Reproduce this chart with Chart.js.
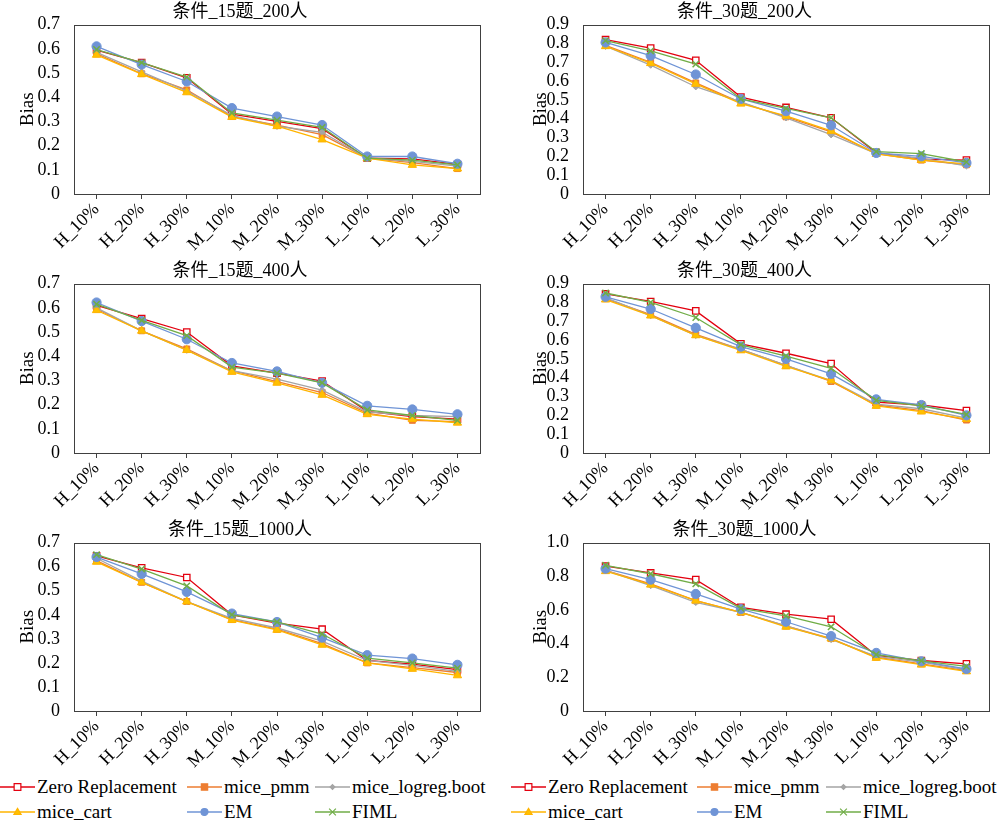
<!DOCTYPE html>
<html>
<head>
<meta charset="utf-8">
<script src="https://cdn.jsdelivr.net/npm/chart.js@4/dist/chart.umd.min.js"></script>
<style>
  html, body { margin: 0; padding: 0; background: #fff; }
  body { width: 1000px; height: 822px; position: relative; overflow: hidden;
         font-family: "Liberation Serif", "Times New Roman", "Noto Sans CJK SC", serif; }
  .panel { position: absolute; width: 500px; height: 258px; }
  .legend-item { position: absolute; font-size: 19px; line-height: 22px; white-space: nowrap; color: #000; }
  .legend-item canvas { position: absolute; top: 5px; }
  .legend-item span { position: absolute; top: 0; }
</style>
</head>
<body>
<div class="panel" style="left:0;top:0"><canvas id="c1"></canvas></div>
<div class="panel" style="left:500px;top:0"><canvas id="c2"></canvas></div>
<div class="panel" style="left:0;top:259px"><canvas id="c3"></canvas></div>
<div class="panel" style="left:500px;top:259px"><canvas id="c4"></canvas></div>
<div class="panel" style="left:0;top:518px"><canvas id="c5"></canvas></div>
<div class="panel" style="left:500px;top:518px"><canvas id="c6"></canvas></div>
<div id="legend-left"></div>
<div id="legend-right"></div>
<script>
const categories = ['H_10%', 'H_20%', 'H_30%', 'M_10%', 'M_20%', 'M_30%', 'L_10%', 'L_20%', 'L_30%'];
const seriesNames = ['Zero Replacement', 'mice_pmm', 'mice_logreg.boot', 'mice_cart', 'EM', 'FIML'];
const panelTitles = ['条件_15题_200人', '条件_30题_200人', '条件_15题_400人', '条件_30题_400人', '条件_15题_1000人', '条件_30题_1000人'];
const yMaxes = [0.7, 0.9, 0.7, 0.9, 0.7, 1.0];
const ySteps = [0.1, 0.1, 0.1, 0.1, 0.1, 0.2];

// order of rows in each panel: Zero, pmm, logreg.boot, cart, EM, FIML
const bias15_200 = [
  [0.595, 0.543, 0.48, 0.33, 0.30, 0.27, 0.148, 0.145, 0.122],
  [0.58, 0.497, 0.43, 0.32, 0.285, 0.245, 0.148, 0.13, 0.105],
  [0.585, 0.505, 0.425, 0.325, 0.28, 0.255, 0.148, 0.135, 0.115],
  [0.575, 0.495, 0.42, 0.318, 0.28, 0.225, 0.148, 0.12, 0.105],
  [0.61, 0.535, 0.465, 0.355, 0.32, 0.285, 0.155, 0.155, 0.125],
  [0.597, 0.543, 0.483, 0.335, 0.305, 0.275, 0.148, 0.14, 0.12]
];
const bias30_200 = [
  [0.82, 0.775, 0.71, 0.515, 0.46, 0.405, 0.22, 0.185, 0.18],
  [0.79, 0.70, 0.59, 0.485, 0.41, 0.33, 0.215, 0.18, 0.155],
  [0.785, 0.685, 0.57, 0.49, 0.405, 0.315, 0.215, 0.19, 0.15],
  [0.785, 0.695, 0.585, 0.48, 0.415, 0.335, 0.213, 0.18, 0.16],
  [0.805, 0.735, 0.635, 0.505, 0.44, 0.365, 0.218, 0.2, 0.165],
  [0.815, 0.76, 0.69, 0.505, 0.455, 0.405, 0.225, 0.215, 0.17]
];
const bias15_400 = [
  [0.61, 0.555, 0.5, 0.36, 0.33, 0.297, 0.172, 0.15, 0.14],
  [0.595, 0.505, 0.43, 0.34, 0.295, 0.25, 0.165, 0.135, 0.13],
  [0.6, 0.505, 0.425, 0.34, 0.305, 0.26, 0.17, 0.155, 0.15],
  [0.59, 0.505, 0.425, 0.335, 0.29, 0.24, 0.16, 0.14, 0.125],
  [0.622, 0.545, 0.47, 0.372, 0.337, 0.29, 0.195, 0.18, 0.16],
  [0.615, 0.548, 0.485, 0.355, 0.33, 0.29, 0.178, 0.155, 0.135]
];
const bias30_400 = [
  [0.845, 0.805, 0.755, 0.58, 0.53, 0.475, 0.27, 0.255, 0.225],
  [0.82, 0.735, 0.63, 0.55, 0.465, 0.38, 0.255, 0.225, 0.175],
  [0.825, 0.73, 0.625, 0.55, 0.465, 0.385, 0.26, 0.235, 0.185],
  [0.815, 0.73, 0.625, 0.545, 0.46, 0.385, 0.25, 0.22, 0.18],
  [0.83, 0.765, 0.665, 0.565, 0.5, 0.42, 0.285, 0.255, 0.2],
  [0.85, 0.8, 0.72, 0.575, 0.515, 0.45, 0.28, 0.25, 0.205]
];
const bias15_1000 = [
  [0.645, 0.595, 0.555, 0.4, 0.365, 0.34, 0.21, 0.195, 0.172],
  [0.625, 0.535, 0.455, 0.38, 0.34, 0.28, 0.2, 0.18, 0.16],
  [0.635, 0.54, 0.455, 0.385, 0.345, 0.29, 0.21, 0.19, 0.165],
  [0.62, 0.535, 0.455, 0.378, 0.337, 0.275, 0.2, 0.175, 0.148],
  [0.64, 0.57, 0.495, 0.405, 0.37, 0.305, 0.232, 0.218, 0.192],
  [0.65, 0.59, 0.52, 0.4, 0.37, 0.32, 0.22, 0.2, 0.178]
];
const bias30_1000 = [
  [0.86, 0.82, 0.78, 0.615, 0.575, 0.545, 0.33, 0.3, 0.28],
  [0.835, 0.755, 0.655, 0.585, 0.505, 0.43, 0.32, 0.28, 0.24],
  [0.835, 0.745, 0.645, 0.585, 0.505, 0.425, 0.325, 0.29, 0.245],
  [0.83, 0.75, 0.655, 0.585, 0.5, 0.43, 0.315, 0.275, 0.235],
  [0.845, 0.78, 0.695, 0.605, 0.53, 0.445, 0.345, 0.295, 0.25],
  [0.865, 0.815, 0.755, 0.61, 0.565, 0.5, 0.335, 0.298, 0.265]
];

const FONT = '"Liberation Serif", "Times New Roman", "Noto Sans CJK SC", serif';

// look of each series (same order as seriesNames)
const styles = [
  { color: '#e3000f', pointStyle: 'rect', radius: 4.5, fill: '#ffffff', bw: 1.3 },
  { color: '#ed7d31', pointStyle: 'rect', radius: 4.2, fill: '#ed7d31', bw: 1 },
  { color: '#a5a5a5', pointStyle: 'rectRot', radius: 3.2, fill: '#a5a5a5', bw: 1 },
  { color: '#ffb400', pointStyle: 'triangle', radius: 4.8, fill: '#ffc000', bw: 1 },
  { color: '#6f94d6', pointStyle: 'circle', radius: 4.6, fill: '#6f94d6', bw: 1 },
  { color: '#70ad47', pointStyle: 'crossRot', radius: 4.5, fill: '#70ad47', bw: 1.5 }
];

// box around the plot area
const frame = {
  id: 'frame',
  beforeDatasetsDraw(chart) {
    const a = chart.chartArea;
    const ctx = chart.ctx;
    ctx.save();
    ctx.strokeStyle = '#404040';
    ctx.lineWidth = 1;
    ctx.strokeRect(Math.round(a.left) + 0.5, Math.round(a.top) + 0.5,
      Math.round(a.right - a.left), Math.round(a.bottom - a.top));
    ctx.restore();
  }
};

function makePanel(id, idx, rows, yWidth, titleOffset, rightPad, xHeight) {
  const datasets = rows.map((vals, i) => {
    const s = styles[i];
    return {
      label: seriesNames[i],
      data: vals,
      borderColor: s.color,
      borderWidth: 1.3,
      pointStyle: s.pointStyle,
      pointRadius: s.radius,
      pointBackgroundColor: s.fill,
      pointBorderColor: s.color,
      pointBorderWidth: s.bw,
      tension: 0,
      order: 6 - i
    };
  });

  return new Chart(document.getElementById(id), {
    type: 'line',
    data: { labels: categories, datasets: datasets },
    plugins: [frame],
    options: {
      responsive: true,
      maintainAspectRatio: false,
      animation: false,
      layout: { padding: { left: 0, right: rightPad, top: 0, bottom: 0 } },
      plugins: {
        legend: { display: false },
        tooltip: { enabled: false },
        title: {
          display: true,
          text: panelTitles[idx],
          color: '#000',
          font: { family: FONT, size: 18, weight: 'normal' },
          padding: { top: 1, bottom: 2 }
        }
      },
      scales: {
        x: {
          offset: true,
          border: { display: false },
          grid: { display: true, drawOnChartArea: false, drawTicks: true, tickLength: 5, color: '#404040' },
          ticks: {
            color: '#000',
            font: { family: FONT, size: 18 },
            minRotation: 45,
            maxRotation: 45,
            autoSkip: false,
            padding: 0
          },
          afterFit(scale) { scale.height = xHeight; }
        },
        y: {
          min: 0,
          max: yMaxes[idx],
          border: { display: false },
          grid: { display: false },
          ticks: {
            stepSize: ySteps[idx],
            autoSkip: false,
            color: '#000',
            font: { family: FONT, size: 18 },
            padding: 6,
            callback: v => (v === 0 ? '0' : v.toFixed(1))
          },
          title: {
            display: true,
            text: 'Bias',
            color: '#000',
            font: { family: FONT, size: 19 },
            padding: { top: titleOffset, bottom: 0 }
          },
          afterFit(scale) { scale.width = yWidth; }
        }
      }
    }
  });
}

makePanel('c1', 0, bias15_200, 74, 17, 20, 64);
makePanel('c2', 1, bias30_200, 83, 30, 11, 64);
makePanel('c3', 2, bias15_400, 74, 17, 20, 64);
makePanel('c4', 3, bias30_400, 83, 30, 11, 64);
makePanel('c5', 4, bias15_1000, 74, 17, 20, 65);
makePanel('c6', 5, bias30_1000, 83, 30, 11, 65);

// legend markers drawn on small canvases
function drawMarker(ctx, s, x, y) {
  const r = s.radius * 0.75;
  ctx.fillStyle = s.fill;
  ctx.strokeStyle = s.color;
  ctx.lineWidth = 1.2;
  ctx.beginPath();
  if (s.pointStyle === 'rect') {
    ctx.rect(x - r, y - r, 2 * r, 2 * r);
    ctx.fill(); ctx.stroke();
  } else if (s.pointStyle === 'rectRot') {
    ctx.moveTo(x, y - r); ctx.lineTo(x + r, y); ctx.lineTo(x, y + r); ctx.lineTo(x - r, y); ctx.closePath();
    ctx.fill(); ctx.stroke();
  } else if (s.pointStyle === 'triangle') {
    ctx.moveTo(x, y - r); ctx.lineTo(x + r, y + r * 0.7); ctx.lineTo(x - r, y + r * 0.7); ctx.closePath();
    ctx.fill(); ctx.stroke();
  } else if (s.pointStyle === 'circle') {
    ctx.arc(x, y, r, 0, Math.PI * 2);
    ctx.fill(); ctx.stroke();
  } else {
    ctx.moveTo(x - r, y - r); ctx.lineTo(x + r, y + r);
    ctx.moveTo(x + r, y - r); ctx.lineTo(x - r, y + r);
    ctx.stroke();
  }
}

function buildLegend(containerId, originX, colOffsets) {
  const box = document.getElementById(containerId);
  seriesNames.forEach((name, i) => {
    const row = Math.floor(i / 3);
    const col = i % 3;
    const item = document.createElement('div');
    item.className = 'legend-item';
    item.style.left = (originX + colOffsets[col]) + 'px';
    item.style.top = (776 + row * 25) + 'px';
    const cv = document.createElement('canvas');
    cv.width = 36; cv.height = 12;
    cv.style.left = '0px';
    const ctx = cv.getContext('2d');
    ctx.strokeStyle = styles[i].color;
    ctx.lineWidth = 1.5;
    ctx.beginPath(); ctx.moveTo(0, 6); ctx.lineTo(35, 6); ctx.stroke();
    drawMarker(ctx, styles[i], 17.5, 6);
    const txt = document.createElement('span');
    txt.style.left = '37px';
    txt.textContent = name;
    item.appendChild(cv);
    item.appendChild(txt);
    box.appendChild(item);
  });
}

buildLegend('legend-left', 0, [0, 187, 315]);
buildLegend('legend-right', 511, [0, 186, 315]);
</script>
</body>
</html>
